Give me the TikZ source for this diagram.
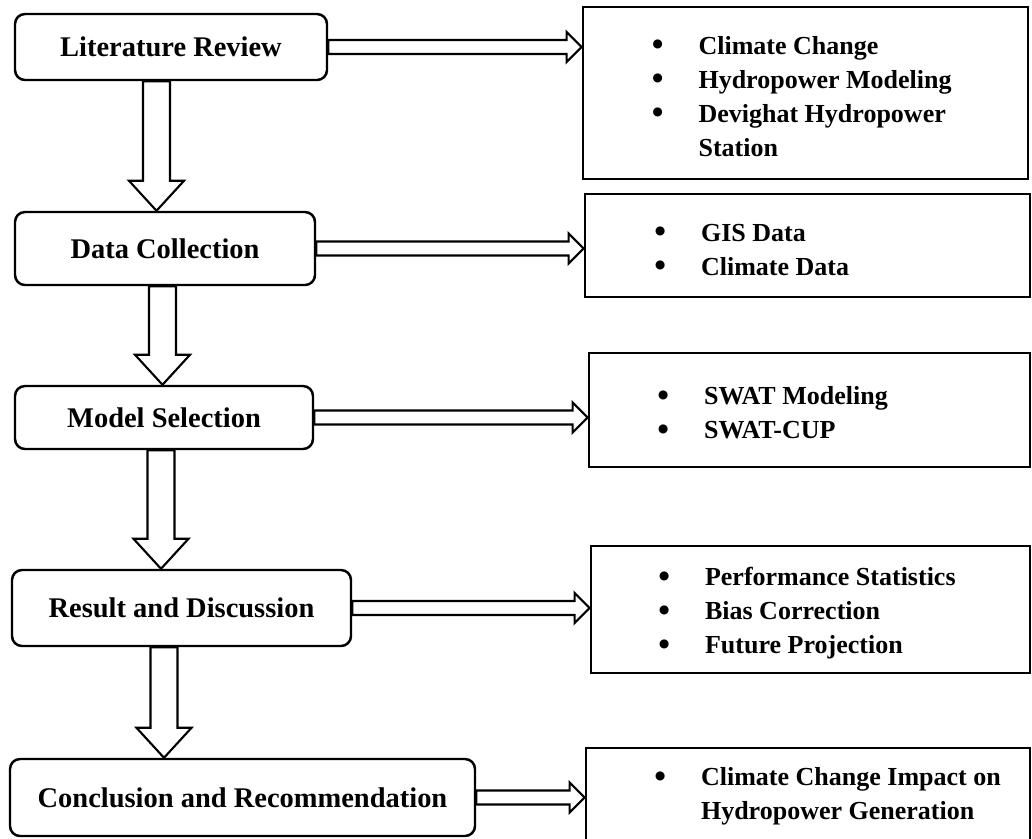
\documentclass[tikz,border=0pt]{standalone}
\usepackage{fontspec}
\setmainfont{Liberation Serif}
\usetikzlibrary{calc}

% hollow block arrows between two points
\newcommand{\downarr}[2]{%
	\draw[blk] let \p1=(#1), \p2=(#2) in
	(\x1-0.27cm,\y1) -- (\x1-0.27cm,\y2+0.6cm) -- (\x1-0.55cm,\y2+0.6cm) -- (\x1,\y2)
	-- (\x1+0.55cm,\y2+0.6cm) -- (\x1+0.27cm,\y2+0.6cm) -- (\x1+0.27cm,\y1) -- cycle;}
\newcommand{\rightarr}[2]{%
	\draw[blk] let \p1=(#1), \p2=(#2) in
	(\x1,\y1+0.14cm) -- (\x2-0.3cm,\y1+0.14cm) -- (\x2-0.3cm,\y1+0.3cm) -- (\x2,\y1)
	-- (\x2-0.3cm,\y1-0.3cm) -- (\x2-0.3cm,\y1-0.14cm) -- (\x1,\y1-0.14cm) -- cycle;}
\newcommand{\bul}{\raisebox{-0.8pt}{\fontsize{19}{19}\selectfont\textbullet}}

\begin{document}
\begin{tikzpicture}[
	stage/.style={draw, line width=1.4pt, rounded corners=0.2cm, align=center, font=\bfseries\fontsize{16.2}{19}\selectfont},
	topic/.style={draw, line width=1.5pt},
	items/.style={anchor=west, inner sep=0, font=\bfseries\fontsize{14.8}{19.3}\selectfont},
	blk/.style={line width=1.2pt}
	]
	\useasboundingbox (0,0) rectangle (20.64,-16.76);
	
	\node[stage, minimum width=6.24cm, minimum height=1.32cm] (lit) at (3.42,-0.94) {Literature Review};
	\node[stage, minimum width=6cm, minimum height=1.46cm] (data) at (3.30,-4.97) {Data Collection};
	\node[stage, minimum width=5.96cm, minimum height=1.26cm] (model) at (3.28,-8.35) {Model Selection};
	\node[stage, minimum width=6.78cm, minimum height=1.52cm] (res) at (3.63,-12.16) {Result and Discussion};
	\node[stage, minimum width=9.3cm, minimum height=1.54cm] (conc) at (4.85,-15.95) {Conclusion and Recommendation};
	
	\node[topic, minimum width=8.9cm, minimum height=3.44cm] (r1) at (16.11,-1.86) {};
	\node[topic, minimum width=8.9cm, minimum height=2.06cm] (r2) at (16.15,-4.91) {};
	\node[topic, minimum width=8.82cm, minimum height=2.28cm] (r3) at (16.19,-8.20) {};
	\node[topic, minimum width=8.78cm, minimum height=2.54cm] (r4) at (16.21,-12.19) {};
	\node[topic, minimum width=8.88cm, minimum height=1.84cm] (r5) at (16.16,-15.88) {};
	
	\node[items] (t1) at (13.03,-1.97) {\begin{tabular}{@{}l@{\hspace{0.7cm}}l@{}}
		\bul & Climate Change\\
		\bul & Hydropower Modeling\\
		\bul & Devighat Hydropower\\
		& Station
	\end{tabular}};
	\node[items] (t2) at (13.08,-5.03) {\begin{tabular}{@{}l@{\hspace{0.7cm}}l@{}}
		\bul & GIS Data\\
		\bul & Climate Data
	\end{tabular}};
	\node[items] (t3) at (13.14,-8.30) {\begin{tabular}{@{}l@{\hspace{0.7cm}}l@{}}
		\bul & SWAT Modeling\\
		\bul & SWAT-CUP
	\end{tabular}};
	\node[items] (t4) at (13.16,-12.26) {\begin{tabular}{@{}l@{\hspace{0.7cm}}l@{}}
		\bul & Performance Statistics\\
		\bul & Bias Correction\\
		\bul & Future Projection
	\end{tabular}};
	\node[items] (t5) at (13.08,-15.92) {\begin{tabular}{@{}l@{\hspace{0.7cm}}l@{}}
		\bul & Climate Change Impact on\\
		& Hydropower Generation
	\end{tabular}};
	
	\coordinate (c1) at (3.13,0);
	\coordinate (c2) at (3.25,0);
	\coordinate (c3) at (3.22,0);
	\coordinate (c4) at (3.28,0);
	
	\downarr{lit.south -| c1}{data.north -| c1}
	\downarr{data.south -| c2}{model.north -| c2}
	\downarr{model.south -| c3}{res.north -| c3}
	\downarr{res.south -| c4}{conc.north -| c4}
	
	\rightarr{lit.east}{r1.west |- lit.east}
	\rightarr{data.east}{r2.west |- data.east}
	\rightarr{model.east}{r3.west |- model.east}
	\rightarr{res.east}{r4.west |- res.east}
	\rightarr{conc.east}{r5.west |- conc.east}
\end{tikzpicture}
\end{document}
